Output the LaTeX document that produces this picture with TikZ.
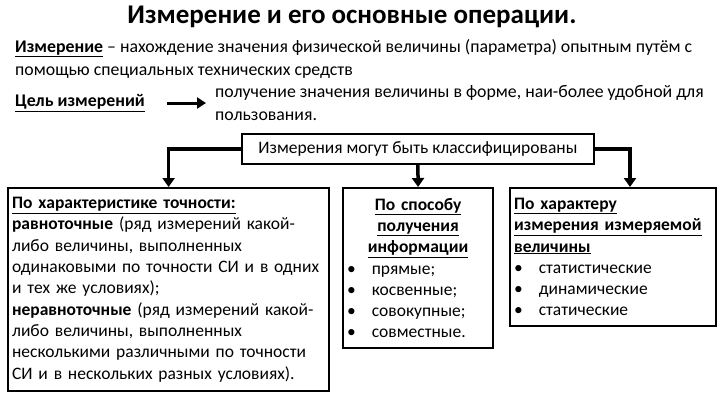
\documentclass[tikz,border=0pt]{standalone}
\usepackage{fontspec}
\setmainfont{Carlito}
\usetikzlibrary{positioning,arrows.meta}
\begin{document}
\begin{tikzpicture}[x=1pt, y=-1pt, font=\fontsize{17.5}{21.3}\selectfont,
  catbox/.style={draw, line width=2.2pt, anchor=north west, align=left, inner xsep=4pt, inner ysep=3pt},
  link/.style={line width=3.5pt, -{Triangle[width=12pt,length=9pt]}}]
  \useasboundingbox (0,0) rectangle (720,405);
  % heading and definitions
  \node[font=\bfseries\fontsize{27}{30}\selectfont] (title) at (352,17) {Измерение и его основные операции.};
  \node[anchor=west, align=left, inner sep=0pt, font=\fontsize{17.8}{23}\selectfont] (defn) at (15,58.5)
    {\textbf{\underline{Измерение}} – нахождение значения физической величины (параметра) опытным путём с\\
     помощью специальных технических средств};
  \node[anchor=west, inner sep=0pt, font=\fontsize{17.8}{23}\selectfont] (aim) at (15,103) {\textbf{\underline{Цель измерений}}};
  \node[anchor=west, align=left, inner sep=0pt, font=\fontsize{17.8}{23}\selectfont] (goal) at (215,103)
    {получение значения величины в форме, наи-более удобной для\\ пользования.};
  \draw[line width=3pt, -{Triangle[width=11pt,length=9pt]}] (167,103) -- (206,103);
  % classification
  \node[draw, line width=1.8pt, minimum width=352pt, minimum height=30pt, anchor=north west] (cls) at (241,133)
    {Измерения могут быть классифицированы};
  \node[catbox, text width=313pt, minimum height=203pt] (acc) at (7,187)
    {\textbf{\underline{По характеристике точности:}}\\
     \textbf{равноточные} (ряд измерений какой-\\
     либо величины, выполненных\\
     одинаковыми по точности СИ и в одних\\
     и тех же условиях);\\
     \textbf{неравноточные} (ряд измерений какой-\\
     либо величины, выполненных\\
     несколькими различными по точности\\
     СИ и в нескольких разных условиях).};
  \node[catbox, text width=142pt, minimum height=160pt] (way) at (342,187)
    {\hfil\textbf{\underline{По способу}}\hfil\\
     \hfil\textbf{\underline{получения}}\hfil\\
     \hfil\textbf{\underline{информации}}\hfil\\
     \textbullet\hspace{16pt}прямые;\\
     \textbullet\hspace{16pt}косвенные;\\
     \textbullet\hspace{16pt}совокупные;\\
     \textbullet\hspace{16pt}совместные.};
  \node[catbox, text width=198pt, minimum height=138pt] (kind) at (509,187)
    {\textbf{\underline{По характеру}}\\
     \textbf{\underline{измерения измеряемой}}\\
     \textbf{\underline{величины}}\\
     \textbullet\hspace{16pt}статистические\\
     \textbullet\hspace{16pt}динамические\\
     \textbullet\hspace{16pt}статические};
  \coordinate (kindin) at (630,187);
  \draw[link] (cls.west) -| (acc.north);
  \draw[link] (cls.south) -- (way.north);
  \draw[link] (cls.east) -| (kindin);
\end{tikzpicture}
\end{document}
